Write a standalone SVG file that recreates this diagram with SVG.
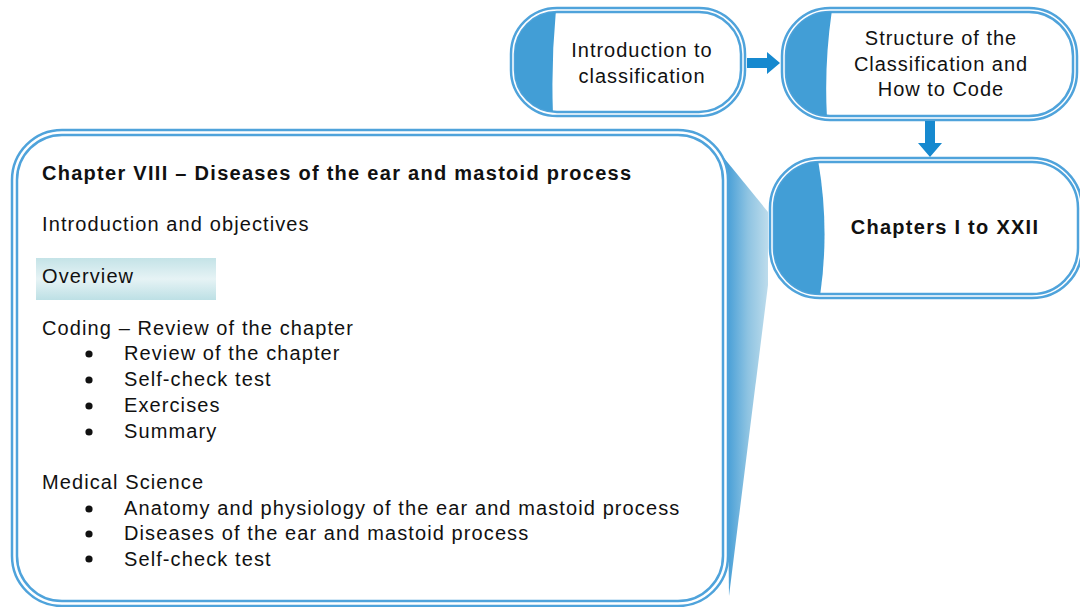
<svg xmlns="http://www.w3.org/2000/svg" width="1080" height="607" viewBox="0 0 1080 607">
<defs>
<style>
.ob{fill:#ffffff;stroke:#4fa3db;stroke-width:2.5}
.ib{fill:#ffffff;stroke:#4fa3db;stroke-width:2.5}
.lf{fill:#429ed6}
.t{font-family:"Liberation Sans",Arial,sans-serif;font-size:20px;fill:#111111;letter-spacing:1.1px}
.tb{font-family:"Liberation Sans",Arial,sans-serif;font-size:20px;font-weight:bold;fill:#111111;letter-spacing:1.28px}
.nt{font-family:"Liberation Sans",Arial,sans-serif;font-size:20px;fill:#111111;text-anchor:middle;letter-spacing:0.97px}
.arr{fill:#1689cf}
</style>
<linearGradient id="wedge" x1="724" y1="0" x2="768" y2="0" gradientUnits="userSpaceOnUse">
<stop offset="0" stop-color="#3d99d5"/>
<stop offset="0.55" stop-color="#8fc4e2"/>
<stop offset="1" stop-color="#bddcec"/>
</linearGradient>
<linearGradient id="ov" x1="0" y1="0" x2="0" y2="1">
<stop offset="0" stop-color="#c4e3e7"/>
<stop offset="0.5" stop-color="#e6f3f5"/>
<stop offset="1" stop-color="#bde0e5"/>
</linearGradient>
<clipPath id="c1"><rect x="515" y="12" width="226" height="100" rx="42"/></clipPath>
<clipPath id="c2"><rect x="786" y="12" width="287" height="104" rx="44"/></clipPath>
<clipPath id="c3"><rect x="774" y="162" width="304" height="132" rx="46"/></clipPath>
</defs>
<rect width="1080" height="607" fill="#ffffff"/>

<g id="callout">
<polygon points="724,158 768,212 768,285 729,596" fill="url(#wedge)"/>
</g>

<g id="chapter-box">
<rect class="ob" x="12" y="130" width="716" height="476" rx="50"/>
<rect class="ib" x="17" y="135" width="706" height="466" rx="45"/>
<rect x="36" y="258" width="180" height="42" fill="url(#ov)"/>
<text class="tb" x="42" y="180">Chapter VIII – Diseases of the ear and mastoid process</text>
<text class="t" x="42" y="231">Introduction and objectives</text>
<text class="t" x="42" y="283">Overview</text>
<text class="t" x="42" y="335">Coding – Review of the chapter</text>
<g>
<circle cx="89" cy="354" r="3.6" fill="#111111"/><text class="t" x="124" y="360">Review of the chapter</text>
<circle cx="89" cy="380" r="3.6" fill="#111111"/><text class="t" x="124" y="386">Self-check test</text>
<circle cx="89" cy="406" r="3.6" fill="#111111"/><text class="t" x="124" y="412">Exercises</text>
<circle cx="89" cy="432" r="3.6" fill="#111111"/><text class="t" x="124" y="438">Summary</text>
</g>
<text class="t" x="42" y="489">Medical Science</text>
<g>
<circle cx="89" cy="509" r="3.6" fill="#111111"/><text class="t" x="124" y="515">Anatomy and physiology of the ear and mastoid process</text>
<circle cx="89" cy="534" r="3.6" fill="#111111"/><text class="t" x="124" y="540">Diseases of the ear and mastoid process</text>
<circle cx="89" cy="559" r="3.6" fill="#111111"/><text class="t" x="124" y="566">Self-check test</text>
</g>
</g>

<g id="node-intro">
<rect class="ob" x="511" y="8" width="234" height="108" rx="46"/>
<rect class="ib" x="515" y="12" width="226" height="100" rx="42"/>
<path class="lf" clip-path="url(#c1)" d="M510,10 L556,10 Q551,62 553,114 L510,114 Z"/>
<text class="nt" x="642" y="57">Introduction to</text>
<text class="nt" x="642" y="83">classification</text>
</g>

<g id="node-structure">
<rect class="ob" x="782" y="8" width="295" height="112" rx="48"/>
<rect class="ib" x="786" y="12" width="287" height="104" rx="44"/>
<path class="lf" clip-path="url(#c2)" d="M780,10 L832,10 Q824,64 827,118 L780,118 Z"/>
<text class="nt" x="941" y="45">Structure of the</text>
<text class="nt" x="941" y="71">Classification and</text>
<text class="nt" x="941" y="96">How to Code</text>
</g>

<g id="node-chapters">
<rect class="ob" x="770" y="158" width="312" height="140" rx="50"/>
<rect class="ib" x="774" y="162" width="304" height="132" rx="46"/>
<path class="lf" clip-path="url(#c3)" d="M770,160 L818,160 Q830,228 820,296 L770,296 Z"/>
<text class="tb" x="945" y="234" text-anchor="middle">Chapters I to XXII</text>
</g>

<g id="connectors">
<polygon class="arr" points="747,58 767,58 767,52 780,63 767,74 767,68 747,68"/>
<polygon class="arr" points="925,121 935,121 935,143 942,143 930,157 918,143 925,143"/>
</g>
</svg>
